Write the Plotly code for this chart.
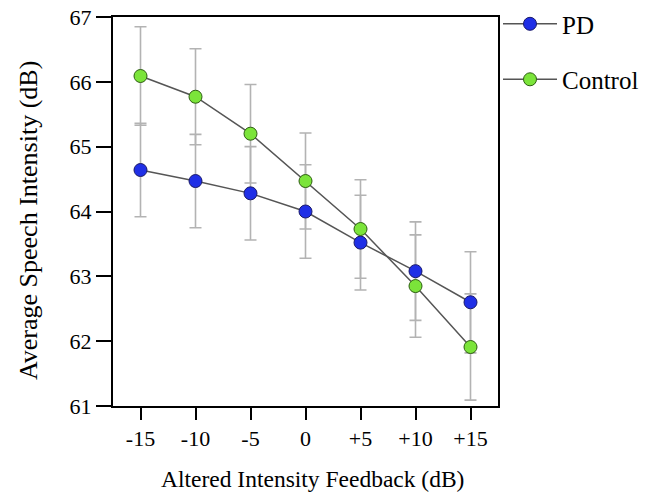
import plotly.graph_objects as go

categories = ["-15", "-10", "-5", "0", "+5", "+10", "+15"]
pd_mean = [64.64, 64.47, 64.28, 64.00, 63.52, 63.08, 62.60]
pd_err = [0.72, 0.72, 0.72, 0.72, 0.73, 0.76, 0.78]
ctrl_mean = [66.09, 65.77, 65.20, 64.47, 63.73, 62.85, 61.91]
ctrl_err = [0.76, 0.74, 0.76, 0.74, 0.76, 0.79, 0.82]
y_ticks = [61, 62, 63, 64, 65, 66, 67]
x_title = "Altered Intensity Feedback (dB)"
y_title = "Average Speech Intensity (dB)"

FONT = "Liberation Serif"
ERR_COLOR = "#b3b3b3"

fig = go.Figure()

# error bars first (so all markers sit on top)
for mean, err in [(pd_mean, pd_err), (ctrl_mean, ctrl_err)]:
    fig.add_trace(go.Scatter(
        x=categories, y=mean, mode="markers",
        marker=dict(size=1, opacity=0),
        error_y=dict(type="data", array=err, visible=True,
                     color=ERR_COLOR, thickness=1.6, width=6),
        showlegend=False, hoverinfo="skip"))

fig.add_trace(go.Scatter(
    x=categories, y=pd_mean, mode="lines+markers", name="PD", legendgroup="pd",
    line=dict(color="#555555", width=1.5),
    marker=dict(size=13, color="#1f2fe6", line=dict(color="#1a1a6a", width=1))))
fig.add_trace(go.Scatter(
    x=categories, y=ctrl_mean, mode="lines+markers", name="Control", legendgroup="ctrl",
    line=dict(color="#555555", width=1.5),
    marker=dict(size=13, color="#7be43a", line=dict(color="#2e5e12", width=1))))

fig.update_layout(
    width=649, height=497,
    margin=dict(l=113, r=151, t=17, b=91, autoexpand=False),
    paper_bgcolor="white", plot_bgcolor="white",
    font=dict(family=FONT, color="black", size=22),
    legend=dict(x=1.0, xanchor="left", y=1.041, yanchor="top",
                font=dict(family=FONT, size=25), itemwidth=54,
                tracegroupgap=20, bgcolor="rgba(0,0,0,0)"),
    xaxis=dict(
        type="category", categoryorder="array", categoryarray=categories,
        range=[-0.5, 6.5], showgrid=False, zeroline=False, automargin=False,
        showline=True, linecolor="black", linewidth=2, mirror=True,
        ticks="outside", ticklen=12, tickwidth=2, tickcolor="black",
        tickfont=dict(family=FONT, size=22)),
    yaxis=dict(
        range=[61, 67], tickvals=y_ticks, showgrid=False, zeroline=False, automargin=False,
        showline=True, linecolor="black", linewidth=2, mirror=True,
        ticks="outside", ticklen=15, tickwidth=2, tickcolor="black",
        tickfont=dict(family=FONT, size=22)),
    annotations=[
        dict(text=x_title, xref="paper", yref="paper", x=0.517, y=-0.1877,
             xanchor="center", yanchor="middle", showarrow=False,
             font=dict(family=FONT, size=23.5)),
        dict(text=y_title, xref="paper", yref="paper", x=-0.218, y=0.4756,
             xanchor="center", yanchor="middle", showarrow=False, textangle=-90,
             font=dict(family=FONT, size=26)),
    ],
)

fig.write_html("out.html")
